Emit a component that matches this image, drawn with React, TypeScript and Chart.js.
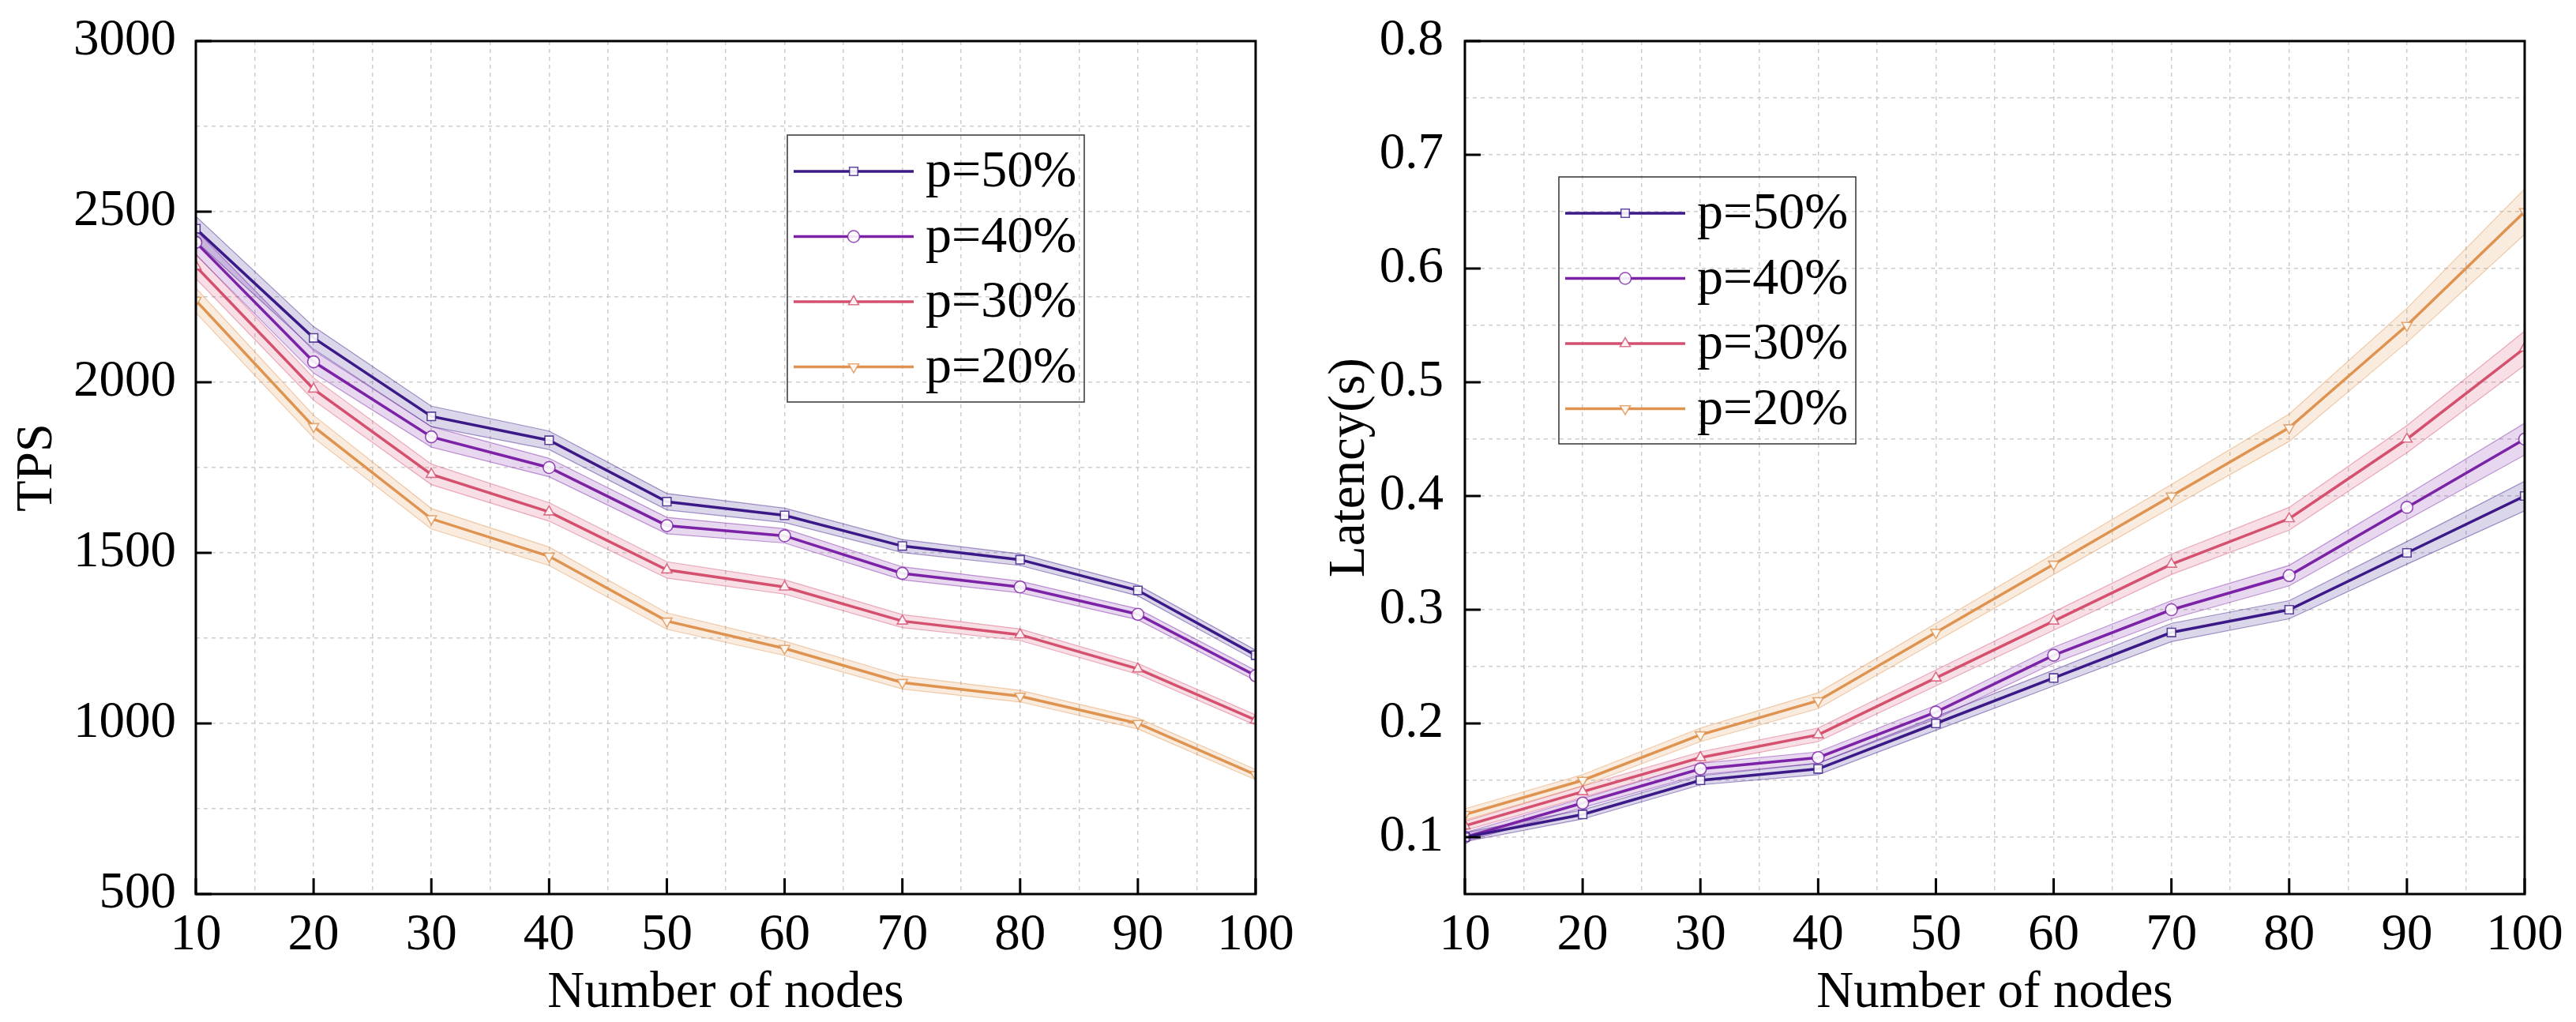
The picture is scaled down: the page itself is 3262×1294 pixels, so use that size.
import React, { useEffect, useRef } from 'react';
import { Chart, registerables } from 'chart.js';

Chart.register(...registerables);

// ---------------- data ----------------
const nodes = [10, 20, 30, 40, 50, 60, 70, 80, 90, 100];
const seriesLabels = ['p=50%', 'p=40%', 'p=30%', 'p=20%'];

const tps50 = [2450, 2130, 1900, 1830, 1650, 1610, 1520, 1480, 1390, 1200];
const tps40 = [2410, 2060, 1840, 1750, 1580, 1550, 1440, 1400, 1320, 1140];
const tps30 = [2340, 1980, 1730, 1620, 1450, 1400, 1300, 1260, 1160, 1010];
const tps20 = [2240, 1870, 1600, 1490, 1300, 1220, 1120, 1080, 1000, 850];
const tpsBand = [36, 33, 30, 27, 24, 21, 19, 17, 16, 15];

const lat50 = [0.10, 0.12, 0.15, 0.16, 0.20, 0.24, 0.28, 0.30, 0.35, 0.40];
const lat40 = [0.10, 0.13, 0.16, 0.17, 0.21, 0.26, 0.30, 0.33, 0.39, 0.45];
const lat30 = [0.11, 0.14, 0.17, 0.19, 0.24, 0.29, 0.34, 0.38, 0.45, 0.53];
const lat20 = [0.12, 0.15, 0.19, 0.22, 0.28, 0.34, 0.40, 0.46, 0.55, 0.65];
const latBand50 = [0.004, 0.004, 0.004, 0.005, 0.006, 0.007, 0.008, 0.008, 0.010, 0.013];
const latBand40 = [0.004, 0.004, 0.005, 0.005, 0.006, 0.007, 0.008, 0.009, 0.011, 0.014];
const latBand30 = [0.004, 0.005, 0.005, 0.006, 0.007, 0.008, 0.009, 0.010, 0.012, 0.015];
const latBand20 = [0.005, 0.005, 0.006, 0.007, 0.008, 0.009, 0.010, 0.012, 0.015, 0.020];

const xMajorTicks = [10, 20, 30, 40, 50, 60, 70, 80, 90, 100];
const tpsMajorTicks = [500, 1000, 1500, 2000, 2500, 3000];
const latMajorTicks = [0.1, 0.2, 0.3, 0.4, 0.5, 0.6, 0.7, 0.8];

// ---------------- styles ----------------
const seriesRGB = ['59,26,136', '123,34,166', '212,80,110', '223,147,80'];
const pointStyles = ['rect', 'circle', 'triangle', 'triangle'];
const pointRotations = [0, 0, 0, 180];
const FONT = '"Liberation Serif", "Times New Roman", serif';
const MARKER_R = 7.5;

function buildDatasets(values: number[][], bands: number[][]) {
  const ds: any[] = [];
  values.forEach((vals, i) => {
    const c = seriesRGB[i];
    ds.push({
      label: seriesLabels[i] + ' lower',
      data: nodes.map((x, j) => ({ x, y: vals[j] - bands[i][j] })),
      borderColor: `rgba(${c},0.45)`,
      borderWidth: 1.2,
      pointRadius: 0,
      fill: false,
      order: 10,
      isBand: true,
    });
    ds.push({
      label: seriesLabels[i] + ' upper',
      data: nodes.map((x, j) => ({ x, y: vals[j] + bands[i][j] })),
      borderColor: `rgba(${c},0.45)`,
      backgroundColor: `rgba(${c},0.18)`,
      borderWidth: 1.2,
      pointRadius: 0,
      fill: '-1',
      order: 10,
      isBand: true,
    });
  });
  values.forEach((vals, i) => {
    const c = seriesRGB[i];
    ds.push({
      label: seriesLabels[i],
      data: nodes.map((x, j) => ({ x, y: vals[j] })),
      borderColor: `rgb(${c})`,
      borderWidth: 3.5,
      pointStyle: pointStyles[i],
      rotation: pointRotations[i],
      pointRadius: MARKER_R,
      pointBorderWidth: 1.6,
      pointBorderColor: `rgba(${c},0.8)`,
      pointBackgroundColor: 'rgba(255,255,255,0.9)',
      fill: false,
      tension: 0,
      order: 0,
      isMain: true,
    });
  });
  return ds;
}

function drawMarker(ctx: CanvasRenderingContext2D, style: string, rot: number, x: number, y: number, r: number) {
  ctx.beginPath();
  if (style === 'rect') {
    const s = Math.SQRT1_2 * r;
    ctx.rect(x - s, y - s, 2 * s, 2 * s);
  } else if (style === 'circle') {
    ctx.arc(x, y, r, 0, Math.PI * 2);
  } else {
    const dir = rot === 180 ? -1 : 1;
    ctx.moveTo(x, y - dir * r);
    ctx.lineTo(x + r * 0.866, y + dir * r * 0.5);
    ctx.lineTo(x - r * 0.866, y + dir * r * 0.5);
    ctx.closePath();
  }
  ctx.fill();
  ctx.stroke();
}

function makeFramePlugin(yMajor: number[], legendX: number, legendY: number) {
  return {
    id: 'frameLegend',
    afterDraw(chart: any) {
      const { ctx, chartArea: a, scales } = chart;
      ctx.save();
      // frame
      ctx.strokeStyle = '#000';
      ctx.lineWidth = 3;
      ctx.setLineDash([]);
      ctx.strokeRect(a.left, a.top, a.right - a.left, a.bottom - a.top);
      // inward ticks
      ctx.beginPath();
      for (const v of xMajorTicks) {
        const px = scales.x.getPixelForValue(v);
        ctx.moveTo(px, a.bottom);
        ctx.lineTo(px, a.bottom - 20);
      }
      for (const v of yMajor) {
        const py = scales.y.getPixelForValue(v);
        ctx.moveTo(a.left, py);
        ctx.lineTo(a.left + 20, py);
      }
      ctx.stroke();
      // legend
      const W = 376, H = 338;
      ctx.lineWidth = 1.5;
      ctx.strokeStyle = '#333';
      ctx.strokeRect(legendX, legendY, W, H);
      const mains = chart.data.datasets.filter((d: any) => d.isMain);
      mains.forEach((d: any, i: number) => {
        const y = legendY + 46 + i * 82.5;
        ctx.strokeStyle = d.borderColor;
        ctx.lineWidth = 3.5;
        ctx.beginPath();
        ctx.moveTo(legendX + 8, y);
        ctx.lineTo(legendX + 160, y);
        ctx.stroke();
        ctx.lineWidth = 1.6;
        ctx.strokeStyle = d.pointBorderColor;
        ctx.fillStyle = d.pointBackgroundColor;
        drawMarker(ctx, d.pointStyle, d.rotation, legendX + 84, y, MARKER_R);
        ctx.fillStyle = '#000';
        ctx.font = `66px ${FONT}`;
        ctx.textBaseline = 'middle';
        ctx.textAlign = 'left';
        ctx.fillText(d.label, legendX + 175, y + 2);
      });
      ctx.restore();
    },
  };
}

interface Spec {
  values: number[][];
  bands: number[][];
  yMin: number;
  yMax: number;
  yStep: number;
  yIsMajor: (v: number) => boolean;
  yFmt: (v: number) => string;
  yMajor: number[];
  yTitle: string;
  yTitlePad: number;
  yTickPad: number;
  yWidth: number;
  padRight: number;
  legendX: number;
  legendY: number;
}

function makeConfig(s: Spec): any {
  const gridColor = '#cdcdcd';
  return {
    type: 'line',
    data: { datasets: buildDatasets(s.values, s.bands) },
    plugins: [makeFramePlugin(s.yMajor, s.legendX, s.legendY)],
    options: {
      animation: false,
      responsive: false,
      devicePixelRatio: 1,
      layout: { padding: { top: 52, right: s.padRight, left: 0, bottom: 0 } },
      plugins: { legend: { display: false }, tooltip: { enabled: false } },
      scales: {
        x: {
          type: 'linear',
          min: 10,
          max: 100,
          ticks: {
            stepSize: 5,
            autoSkip: false,
            maxRotation: 0,
            padding: 20,
            color: '#000',
            font: { family: FONT, size: 65, lineHeight: 1 },
            callback: (v: any) => (Number(v) % 10 === 0 ? String(v) : ''),
          },
          grid: { color: gridColor, lineWidth: 1.5, drawTicks: false },
          border: { display: false, dash: [5, 5] },
          title: {
            display: true,
            text: 'Number of nodes',
            color: '#000',
            font: { family: FONT, size: 65, lineHeight: 1 },
            padding: { top: 0, bottom: 4 },
          },
          afterFit: (sc: any) => {
            sc.height = 162;
            sc.paddingLeft = 0;
            sc.paddingRight = 0;
          },
        },
        y: {
          type: 'linear',
          min: s.yMin,
          max: s.yMax,
          ticks: {
            stepSize: s.yStep,
            autoSkip: false,
            padding: s.yTickPad,
            color: '#000',
            font: { family: FONT, size: 65, lineHeight: 1 },
            callback: (v: any) => (s.yIsMajor(Number(v)) ? s.yFmt(Number(v)) : ''),
          },
          grid: { color: gridColor, lineWidth: 1.5, drawTicks: false },
          border: { display: false, dash: [5, 5] },
          title: {
            display: true,
            text: s.yTitle,
            color: '#000',
            font: { family: FONT, size: 65, lineHeight: 1 },
            padding: { top: s.yTitlePad, bottom: 0 },
          },
          afterFit: (sc: any) => {
            sc.width = s.yWidth;
            sc.paddingTop = 0;
            sc.paddingBottom = 0;
          },
        },
      },
    },
  };
}

function ChartCanvas({ spec, width, height, left }: { spec: Spec; width: number; height: number; left: number }) {
  const ref = useRef<HTMLCanvasElement>(null);
  useEffect(() => {
    const chart = new Chart(ref.current as HTMLCanvasElement, makeConfig(spec));
    return () => chart.destroy();
  }, []);
  return (
    <canvas
      ref={ref}
      width={width}
      height={height}
      style={{ position: 'absolute', left, top: 0, width, height }}
    />
  );
}

const tpsSpec: Spec = {
  values: [tps50, tps40, tps30, tps20],
  bands: [tpsBand, tpsBand, tpsBand, tpsBand],
  yMin: 500,
  yMax: 3000,
  yStep: 250,
  yIsMajor: (v) => Math.round(v) % 500 === 0,
  yFmt: (v) => String(Math.round(v)),
  yMajor: tpsMajorTicks,
  yTitle: 'TPS',
  yTitlePad: 15,
  yTickPad: 25,
  yWidth: 248,
  padRight: 90,
  legendX: 997,
  legendY: 171,
};

const latSpec: Spec = {
  values: [lat50, lat40, lat30, lat20],
  bands: [latBand50, latBand40, latBand30, latBand20],
  yMin: 0.05,
  yMax: 0.8,
  yStep: 0.05,
  yIsMajor: (v) => Math.round(v * 100) % 10 === 0,
  yFmt: (v) => v.toFixed(1),
  yMajor: latMajorTicks,
  yTitle: 'Latency(s)',
  yTitlePad: 46,
  yTickPad: 27,
  yWidth: 224,
  padRight: 65,
  legendX: 343,
  legendY: 224,
};

export default function App() {
  return (
    <div style={{ position: 'absolute', left: 0, top: 0, width: 3262, height: 1294, background: '#fff', overflow: 'hidden' }}>
      <ChartCanvas spec={tpsSpec} width={1680} height={1294} left={0} />
      <ChartCanvas spec={latSpec} width={1631} height={1294} left={1631} />
    </div>
  );
}
